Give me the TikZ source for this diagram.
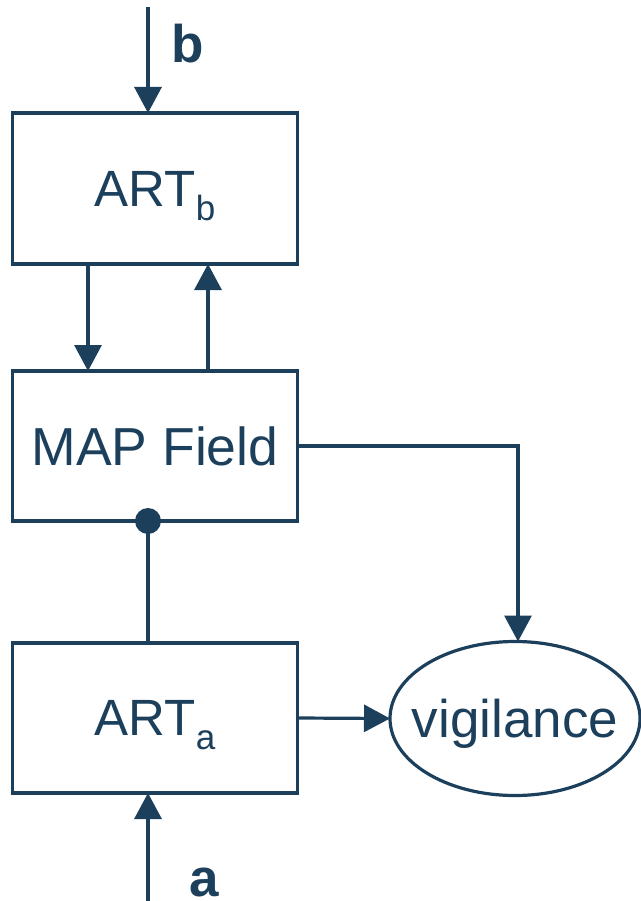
\documentclass[tikz,border=0pt]{standalone}
\usepackage{fontspec}
\setmainfont{Liberation Sans}
\usetikzlibrary{arrows.meta,shapes.geometric}
\definecolor{navy}{RGB}{28,64,92}
\tikzset{
  unitbox/.style={draw=navy, line width=3.2pt, rectangle, inner sep=0pt, outer sep=0pt,
    minimum width=285pt, minimum height=151pt, text=navy, text depth=0pt,
    font=\fontsize{51}{60}\selectfont},
  vigbox/.style={draw=navy, line width=3.2pt, ellipse, inner sep=0pt, outer sep=0pt,
    minimum width=250pt, minimum height=154pt, text=navy, text depth=0pt,
    font=\fontsize{53}{60}\selectfont},
  sig/.style={text=navy, inner sep=0pt, anchor=base, font=\fontsize{53}{60}\selectfont\bfseries},
  wire/.style={draw=navy, line width=3.2pt},
  arr/.style={wire, -{Triangle[width=27pt,length=26pt]}}
}
\newcommand{\lowsub}[1]{\raisebox{-14pt}{\fontsize{35}{35}\selectfont #1}}
\begin{document}
\begin{tikzpicture}[x=1pt,y=-1pt]
  \useasboundingbox (0,0) rectangle (640,901);

  % processing blocks
  \node[unitbox] (artb) at (155,188.5) {ART\lowsub{b}};
  \node[unitbox, minimum height=150pt, font=\fontsize{53.5}{60}\selectfont] (map) at (155,446) {MAP Field};
  \node[unitbox, minimum height=150pt] (arta) at (155,718) {ART\lowsub{a}};
  \node[vigbox] (vig) at (515,718.5) {\makebox[0pt]{vigilance}};

  % inputs
  \coordinate (bin) at (148,7);
  \coordinate (ain) at (148,901);
  \node[sig] (lb) at (188,63) {b};
  \node[sig] (la) at (204,896) {a};
  \draw[arr] (bin) -- (bin |- artb.north);
  \draw[arr] (ain) -- (ain |- arta.south);

  % exchange between ART_b and the map field
  \draw[arr] ([xshift=75.5pt]artb.south west) -- ([xshift=75.5pt]map.north west);
  \draw[arr] ([xshift=195.5pt]map.north west) -- ([xshift=195.5pt]artb.south west);

  % ART_a to map field, ending in a dot
  \draw[wire] ([xshift=135.5pt]arta.north west) -- ([xshift=135.5pt]map.south west);
  \fill[navy] ([xshift=135.5pt]map.south west) circle (13pt);

  % vigilance inputs
  \draw[arr] (map.east) -| ([xshift=3pt]vig.north);
  \draw[arr] (arta.east) -- (vig.west);
\end{tikzpicture}
\end{document}
